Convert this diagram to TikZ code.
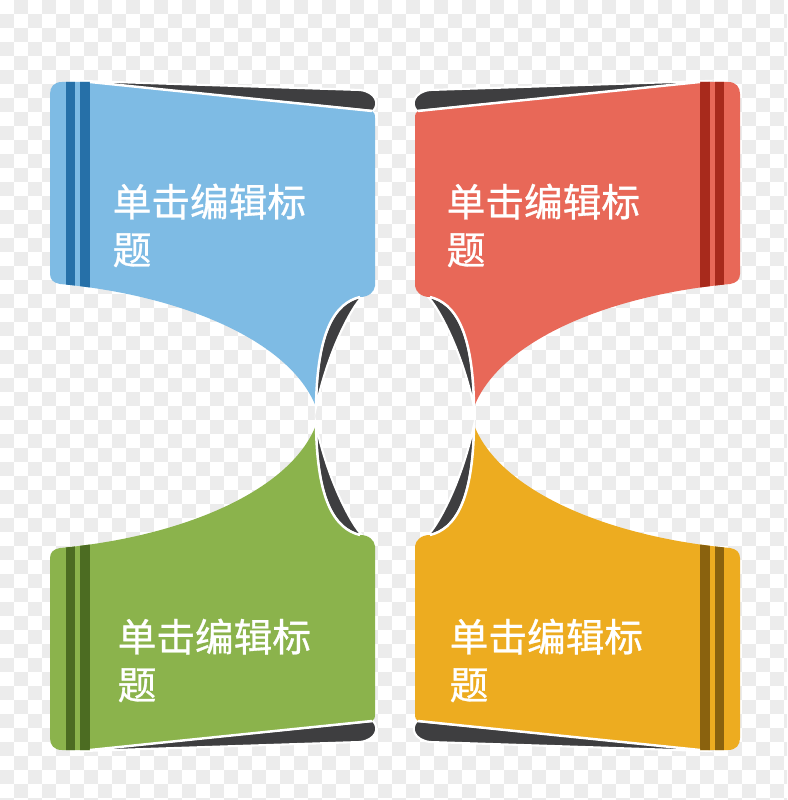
\documentclass[tikz,border=0pt]{standalone}
\usepackage{fontspec}
\usepackage{xcolor}
\newfontfamily\cjk{Noto Sans CJK SC}[FakeBold=0.8]
\usetikzlibrary{positioning}

\definecolor{bluepage}{RGB}{126,187,228}
\definecolor{bluestripe}{RGB}{38,112,168}
\definecolor{redpage}{RGB}{232,104,88}
\definecolor{redstripe}{RGB}{168,42,28}
\definecolor{greenpage}{RGB}{139,179,76}
\definecolor{greenstripe}{RGB}{76,108,34}
\definecolor{orangepage}{RGB}{237,172,32}
\definecolor{orangestripe}{RGB}{138,98,14}
\definecolor{foldgray}{RGB}{62,62,64}
\definecolor{checkgray}{RGB}{236,236,236}

% one page of the book, drawn as the top left one; flipped by the scope
\newcommand{\bookpanel}[2]{%
    \fill[fold] (-312,-335) -- (-35,-326) .. controls (-19,-324) and (-15,-312) .. (-22,-305) -- (-305,-333) -- cycle;
    \fill[fold] (-30,-122) .. controls (-40,-115) and (-66,-70) .. (-79,-9)
        .. controls (-78,-85) and (-60,-113) .. (-35,-119) -- cycle;
    \begin{scope}
        \clip (-345,-322) .. controls (-345,-329) and (-341,-334) .. (-333,-334) -- (-305,-334)
            -- (-23,-305) .. controls (-21,-304) and (-20,-302) .. (-20,-298) -- (-20,-130)
            .. controls (-21,-124) and (-26,-119) .. (-35,-119)
            .. controls (-60,-113) and (-78,-85) .. (-79,-9)
            .. controls (-105,-76) and (-215,-121) .. (-335,-132)
            .. controls (-341,-133) and (-345,-136) .. (-345,-142) -- cycle;
        \fill[#1] (-350,-340) rectangle (0,0);
        \fill[#2] (-329,-340) rectangle (-320,0);
        \fill[#2] (-315,-340) rectangle (-305,0);
    \end{scope}
    \draw[foldedge] (-305,-334) -- (-23,-305);
    \draw[foldedge] (-35,-119) .. controls (-60,-113) and (-78,-85) .. (-79,-9);
}

\begin{document}
\begin{tikzpicture}[x=0.1mm, y=-0.1mm,
        fold/.style={fill=foldgray, draw=white, line width=0.6pt},
        foldedge/.style={white, line width=0.7pt},
        title/.style={anchor=north west, inner sep=0pt, align=left, text=white,
            font=\cjk\fontsize{11}{13.6}\selectfont}]
    \useasboundingbox (0,0) rectangle (787,800);
    \fill[white] (0,0) rectangle (787,800);
    \begin{scope}
        \clip (0,0) rectangle (787,800);
        \foreach \i in {0,2,...,56} \foreach \j in {1,3,...,57}
            \fill[checkgray] (\i*14,\j*14) rectangle ++(14,14);
        \foreach \i in {1,3,...,55} \foreach \j in {0,2,...,56}
            \fill[checkgray] (\i*14,\j*14) rectangle ++(14,14);
    \end{scope}

    \begin{scope}[shift={(395,416)}]
        \bookpanel{bluepage}{bluestripe}
    \end{scope}
    \begin{scope}[shift={(395,416)}, xscale=-1]
        \bookpanel{redpage}{redstripe}
    \end{scope}
    \begin{scope}[shift={(395,416)}, yscale=-1]
        \bookpanel{greenpage}{greenstripe}
    \end{scope}
    \begin{scope}[shift={(395,416)}, scale=-1]
        \bookpanel{orangepage}{orangestripe}
    \end{scope}

    \node[title] (tblue) at (112,183) {单击编辑标\\题};
    \node[title] (tred) at (446,183) {单击编辑标\\题};
    \node[title] (tgreen) at (117,618) {单击编辑标\\题};
    \node[title] (torange) at (449,618) {单击编辑标\\题};
\end{tikzpicture}
\end{document}
